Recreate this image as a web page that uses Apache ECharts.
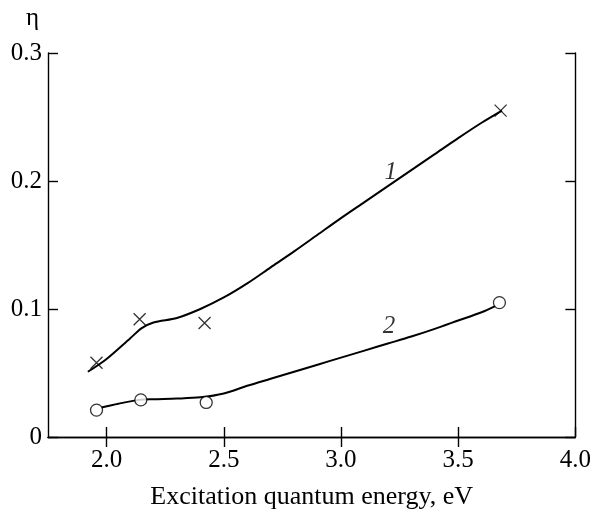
<!DOCTYPE html>
<html>
<head>
<meta charset="utf-8">
<script src="https://cdn.jsdelivr.net/npm/echarts@6/dist/echarts.min.js"></script>
<style>html,body{margin:0;padding:0;background:#fff;}#c{width:594px;height:515px;}</style>
</head>
<body>
<div id="c"></div>
<script>
// Measured points, curve 1 (crosses)
var meas1X = [1.957, 2.141, 2.418, 3.681];
var meas1Y = [0.058, 0.092, 0.089, 0.255];
// Measured points, curve 2 (circles)
var meas2X = [1.957, 2.146, 2.425, 3.676];
var meas2Y = [0.021, 0.029, 0.027, 0.105];
// Fitted curve 1
var fit1X = [1.92, 2.0, 2.1, 2.15, 2.2, 2.3, 2.4, 2.5, 2.6, 2.7, 2.8, 2.9, 3.0, 3.1, 3.2, 3.3, 3.4, 3.5, 3.6, 3.687];
var fit1Y = [0.051, 0.061, 0.077, 0.085, 0.0895, 0.093, 0.100, 0.109, 0.120, 0.1325, 0.145, 0.158, 0.171, 0.1835, 0.196, 0.2085, 0.221, 0.2335, 0.2455, 0.255];
// Fitted curve 2
var fit2X = [1.978, 2.05, 2.14, 2.2, 2.3, 2.4, 2.5, 2.6, 2.7, 2.8, 2.9, 3.0, 3.1, 3.2, 3.3, 3.4, 3.5, 3.6, 3.66];
var fit2Y = [0.023, 0.026, 0.029, 0.0295, 0.030, 0.031, 0.034, 0.040, 0.0455, 0.051, 0.0565, 0.062, 0.0675, 0.073, 0.0785, 0.0845, 0.091, 0.0975, 0.1025];
// Curve labels
var curveLabels = ['1', '2'];
var curveLabelX = [3.212, 3.205];
var curveLabelY = [0.207, 0.086];
// Axis ticks
var xTicks = [2.0, 2.5, 3.0, 3.5, 4.0];
var yTicks = [0, 0.1, 0.2, 0.3];

function zip(a, b) { return a.map(function (v, i) { return [v, b[i]]; }); }

var FONT = '"Liberation Serif", "Times New Roman", serif';
var FS = 25;
var chart = echarts.init(document.getElementById('c'));
var axisLine = { show: true, lineStyle: { color: '#000', width: 1.4 } };
chart.setOption({
  animation: false,
  backgroundColor: '#fff',
  grid: { left: 48, right: 17, top: 53, bottom: 70, containLabel: false },
  graphic: [{
    type: 'text', left: 26, top: 6,
    style: { text: 'η', font: FS + 'px ' + FONT, fill: '#000' }
  }],
  xAxis: [{
    type: 'value', min: 1.75, max: 4.0, position: 'bottom',
    name: 'Excitation quantum energy, eV', nameLocation: 'middle', nameGap: 47,
    nameTextStyle: { fontFamily: FONT, fontSize: FS + 1, color: '#000' },
    axisLine: axisLine,
    axisTick: { show: true, inside: true, length: 10, customValues: xTicks, lineStyle: { color: '#000', width: 1.4 } },
    axisLabel: { show: true, customValues: xTicks, margin: 11, fontFamily: FONT, fontSize: FS, color: '#000',
      formatter: function (v) { return v.toFixed(1); } },
    splitLine: { show: false }
  }, {
    type: 'value', min: 1.75, max: 4.0, position: 'top',
    axisLine: axisLine,
    axisTick: { show: true, inside: true, length: 10, customValues: [2.0, 2.5, 3.0, 3.5], lineStyle: { color: '#000', width: 1.4 } },
    axisLabel: { show: false },
    splitLine: { show: false }
  }],
  yAxis: [{
    type: 'value', min: 0, max: 0.3, interval: 0.1, position: 'left',
    axisLine: axisLine,
    axisTick: { show: true, inside: true, length: 10, lineStyle: { color: '#000', width: 1.4 } },
    axisLabel: { show: true, margin: 6, fontFamily: FONT, fontSize: FS, color: '#000',
      formatter: function (v) { return v === 0 ? '0' : v.toFixed(1); } },
    splitLine: { show: false }
  }, {
    type: 'value', min: 0, max: 0.3, interval: 0.1, position: 'right',
    axisLine: axisLine,
    axisTick: { show: true, inside: true, length: 10, lineStyle: { color: '#000', width: 1.4 } },
    axisLabel: { show: false },
    splitLine: { show: false }
  }],
  series: [{
    type: 'line', data: zip(fit1X, fit1Y), smooth: 0.3, showSymbol: false, symbol: 'none',
    lineStyle: { color: '#000', width: 2 }, z: 2
  }, {
    type: 'line', data: zip(fit2X, fit2Y), smooth: 0.3, showSymbol: false, symbol: 'none',
    lineStyle: { color: '#000', width: 2 }, z: 2
  }, {
    type: 'scatter', data: zip(meas1X, meas1Y), symbol: 'path://M0,0L10,10M10,0L0,10', symbolSize: 12,
    itemStyle: { color: 'none', borderColor: '#000', borderWidth: 1.3 }, z: 3
  }, {
    type: 'scatter', data: zip(meas2X, meas2Y), symbol: 'circle', symbolSize: 12,
    itemStyle: { color: '#fff', borderColor: '#000', borderWidth: 1.3 }, z: 3
  }, {
    type: 'scatter', symbolSize: 0, silent: true, z: 4,
    data: curveLabels.map(function (t, i) { return { value: [curveLabelX[i], curveLabelY[i]], name: t }; }),
    label: { show: true, position: 'inside', formatter: '{b}', fontFamily: FONT, fontStyle: 'italic', fontSize: FS, color: '#000' }
  }]
});
</script>
</body>
</html>
